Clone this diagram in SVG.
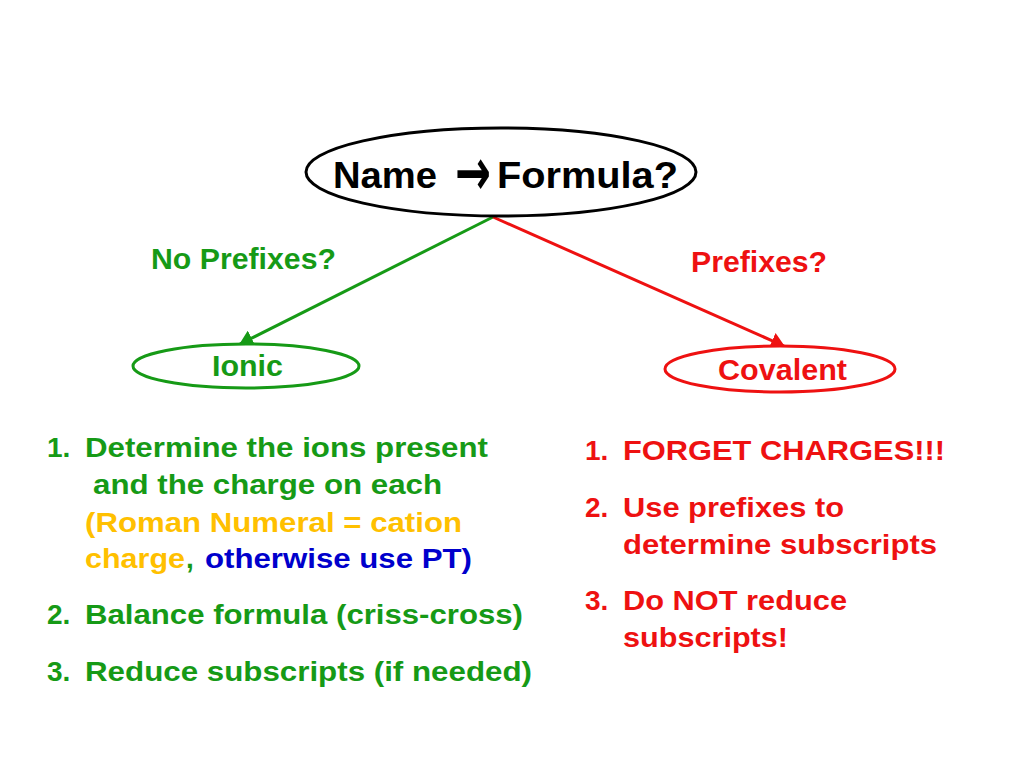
<svg xmlns="http://www.w3.org/2000/svg" width="1024" height="768" viewBox="0 0 1024 768">
<style>
text{font-family:"Liberation Sans",Arial,"DejaVu Sans",sans-serif;font-weight:bold}
text.dv{font-family:"DejaVu Sans",sans-serif}
.g{fill:#169A16}.r{fill:#EE1111}.o{fill:#FFC000}.b{fill:#0000CC}.k{fill:#000}
.t{font-size:28px}
</style>
<defs>
<marker id="ag" viewBox="0 0 14 17" refX="13" refY="8.5" markerWidth="14" markerHeight="17" markerUnits="userSpaceOnUse" orient="auto"><path d="M0,0 L14,8.5 L0,17 z" fill="#169A16"/></marker>
<marker id="ar" viewBox="0 0 14 17" refX="13" refY="8.5" markerWidth="14" markerHeight="17" markerUnits="userSpaceOnUse" orient="auto"><path d="M0,0 L14,8.5 L0,17 z" fill="#EE1111"/></marker>
</defs>
<rect width="1024" height="768" fill="#fff"/>
<g id="connectors">
<line x1="493" y1="217" x2="240" y2="344" stroke="#169A16" stroke-width="3" marker-end="url(#ag)"/>
<line x1="493" y1="217" x2="784" y2="346" stroke="#EE1111" stroke-width="3" marker-end="url(#ar)"/>
<text class="g" x="151" y="269" font-size="29" textLength="185" lengthAdjust="spacingAndGlyphs">No Prefixes?</text>
<text class="r" x="691" y="272" font-size="29" textLength="136" lengthAdjust="spacingAndGlyphs">Prefixes?</text>
</g>
<g id="root">
<ellipse cx="501" cy="172" rx="195" ry="44" fill="#fff" stroke="#000" stroke-width="3"/>
<text class="k" x="333" y="188" font-size="36" textLength="104" lengthAdjust="spacingAndGlyphs">Name</text>
<text class="k dv" x="455" y="187.5" font-size="44" textLength="36" lengthAdjust="spacingAndGlyphs" transform="translate(0,173) scale(1,1.5) translate(0,-173)">→</text>
<text class="k" x="497" y="188" font-size="36" textLength="181" lengthAdjust="spacingAndGlyphs">Formula?</text>
</g>
<g id="ionic">
<ellipse cx="246" cy="366" rx="113" ry="22" fill="#fff" stroke="#169A16" stroke-width="3"/>
<text class="g" x="212" y="376" font-size="29" textLength="71" lengthAdjust="spacingAndGlyphs">Ionic</text>
</g>
<g id="covalent">
<ellipse cx="780" cy="369" rx="115" ry="23" fill="#fff" stroke="#EE1111" stroke-width="3"/>
<text class="r" x="718" y="380" font-size="29" textLength="129" lengthAdjust="spacingAndGlyphs">Covalent</text>
</g>
<g id="ionic-steps" class="t">
<text class="g" x="47" y="457">1.</text>
<text class="g" x="85" y="457" textLength="403" lengthAdjust="spacingAndGlyphs">Determine the ions present</text>
<text class="g" x="93" y="494" textLength="349" lengthAdjust="spacingAndGlyphs">and the charge on each</text>
<text class="o" x="85" y="532" textLength="377" lengthAdjust="spacingAndGlyphs">(Roman Numeral = cation</text>
<text class="o" x="85" y="568" textLength="100" lengthAdjust="spacingAndGlyphs">charge</text>
<text class="g" x="186" y="568">,</text>
<text class="b" x="205" y="568" textLength="267" lengthAdjust="spacingAndGlyphs">otherwise use PT)</text>
<text class="g" x="47" y="624">2.</text>
<text class="g" x="85" y="624" textLength="438" lengthAdjust="spacingAndGlyphs">Balance formula (criss-cross)</text>
<text class="g" x="47" y="681">3.</text>
<text class="g" x="85" y="681" textLength="447" lengthAdjust="spacingAndGlyphs">Reduce subscripts (if needed)</text>
</g>
<g id="covalent-steps" class="t">
<text class="r" x="585" y="460">1.</text>
<text class="r" x="623" y="460" textLength="322" lengthAdjust="spacingAndGlyphs">FORGET CHARGES!!!</text>
<text class="r" x="585" y="517">2.</text>
<text class="r" x="623" y="517" textLength="221" lengthAdjust="spacingAndGlyphs">Use prefixes to</text>
<text class="r" x="623" y="554" textLength="314" lengthAdjust="spacingAndGlyphs">determine subscripts</text>
<text class="r" x="585" y="610">3.</text>
<text class="r" x="623" y="610" textLength="224" lengthAdjust="spacingAndGlyphs">Do NOT reduce</text>
<text class="r" x="623" y="647" textLength="165" lengthAdjust="spacingAndGlyphs">subscripts!</text>
</g>
</svg>
